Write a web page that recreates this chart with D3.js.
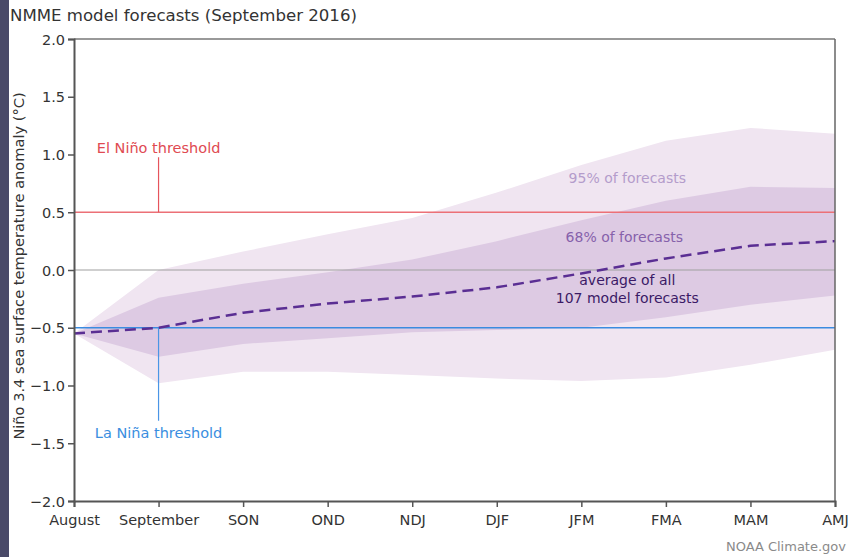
<!DOCTYPE html>
<html>
<head>
<meta charset="utf-8">
<script src="https://cdn.jsdelivr.net/npm/d3@7"></script>
<style>
	body { margin: 0; background: #fff; }
	svg text { font-family: "DejaVu Sans", sans-serif; }
</style>
</head>
<body>
<div id="chart"></div>
<script>
// forecast periods along the x axis
var periods = ["August", "September", "SON", "OND", "NDJ", "DJF", "JFM", "FMA", "MAM", "AMJ"];

// ensemble mean of all model forecasts
var meanValues = [-0.55, -0.50, -0.37, -0.29, -0.23, -0.15, -0.03, 0.10, 0.21, 0.25];

// 68% of forecasts range
var band68Upper = [-0.55, -0.24, -0.12, -0.02, 0.09, 0.25, 0.43, 0.60, 0.72, 0.71];
var band68Lower = [-0.55, -0.75, -0.64, -0.59, -0.54, -0.52, -0.50, -0.41, -0.30, -0.22];

// 95% of forecasts range
var band95Upper = [-0.55, 0.00, 0.16, 0.31, 0.45, 0.67, 0.91, 1.12, 1.23, 1.18];
var band95Lower = [-0.55, -0.98, -0.88, -0.88, -0.91, -0.94, -0.96, -0.93, -0.82, -0.69];

var yTicks = [2.0, 1.5, 1.0, 0.5, 0.0, -0.5, -1.0, -1.5, -2.0];
var elNino = 0.5, laNina = -0.5;

var W = 848, H = 557;
var margins = {top: 39, bottom: 56, left: 74, right: 13};
var width = W - margins.left - margins.right,
	height = H - margins.top - margins.bottom;

var svg = d3.select("#chart").append("svg")
	.attr("width", W)
	.attr("height", H);

// dark strip on the left edge
svg.append("rect")
	.attr("x", 0).attr("y", 0)
	.attr("width", 9).attr("height", H)
	.attr("fill", "#4a4a68");

svg.append("text")
	.attr("x", 10).attr("y", 21)
	.attr("font-size", 16.6)
	.attr("fill", "#333")
	.text("NMME model forecasts (September 2016)");

var g = svg.append("g")
	.attr("transform", "translate(" + margins.left + "," + margins.top + ")");

var x = d3.scalePoint().domain(periods).range([0, width]);
var y = d3.scaleLinear().domain([-2, 2]).range([height, 0]);

var rows = periods.map(function(p, i) {
	return {p: p, mean: meanValues[i], u68: band68Upper[i], l68: band68Lower[i], u95: band95Upper[i], l95: band95Lower[i]};
});

var area95 = d3.area()
	.x(function(d) { return x(d.p); })
	.y0(function(d) { return y(d.l95); })
	.y1(function(d) { return y(d.u95); });

var area68 = d3.area()
	.x(function(d) { return x(d.p); })
	.y0(function(d) { return y(d.l68); })
	.y1(function(d) { return y(d.u68); });

g.append("path").datum(rows).attr("d", area95).attr("fill", "#f0e5f1");
g.append("path").datum(rows).attr("d", area68).attr("fill", "#ddcae3");

// zero line
g.append("line")
	.attr("x1", 0).attr("x2", width)
	.attr("y1", y(0)).attr("y2", y(0))
	.attr("stroke", "#a0a0a0").attr("stroke-width", 1.2);

// thresholds
g.append("line")
	.attr("x1", 0).attr("x2", width)
	.attr("y1", y(elNino)).attr("y2", y(elNino))
	.attr("stroke", "#ec7077").attr("stroke-width", 1.3);
g.append("line")
	.attr("x1", x("September")).attr("x2", x("September"))
	.attr("y1", y(elNino)).attr("y2", y(elNino) - 55)
	.attr("stroke", "#e6545c").attr("stroke-width", 1.2);
g.append("text")
	.attr("x", x("September")).attr("y", y(elNino) - 59)
	.attr("text-anchor", "middle")
	.attr("font-size", 14.5)
	.attr("fill", "#e04a52")
	.text("El Niño threshold");

g.append("line")
	.attr("x1", 0).attr("x2", width)
	.attr("y1", y(laNina)).attr("y2", y(laNina))
	.attr("stroke", "#3a8be0").attr("stroke-width", 1.3);
g.append("line")
	.attr("x1", x("September")).attr("x2", x("September"))
	.attr("y1", y(laNina)).attr("y2", y(laNina) + 93)
	.attr("stroke", "#4a95e6").attr("stroke-width", 1.2);
g.append("text")
	.attr("x", x("September")).attr("y", y(laNina) + 110)
	.attr("text-anchor", "middle")
	.attr("font-size", 14.5)
	.attr("fill", "#3a8ee0")
	.text("La Niña threshold");

// ensemble mean
var line = d3.line()
	.x(function(d) { return x(d.p); })
	.y(function(d) { return y(d.mean); });

g.append("path").datum(rows)
	.attr("d", line)
	.attr("fill", "none")
	.attr("stroke", "#5a2e93")
	.attr("stroke-width", 2.5)
	.attr("stroke-dasharray", "11,6");

// band labels
var lx = (x("DJF") + x("FMA")) / 2 + 46;
g.append("text")
	.attr("x", lx).attr("y", y(0.75))
	.attr("text-anchor", "middle").attr("font-size", 14)
	.attr("fill", "#b49ccb")
	.text("95% of forecasts");
g.append("text")
	.attr("x", lx - 3).attr("y", y(0.24))
	.attr("text-anchor", "middle").attr("font-size", 14)
	.attr("fill", "#8661ab")
	.text("68% of forecasts");
g.append("text")
	.attr("x", lx).attr("y", y(-0.13))
	.attr("text-anchor", "middle").attr("font-size", 14)
	.attr("fill", "#3b1a66")
	.text("average of all");
g.append("text")
	.attr("x", lx).attr("y", y(-0.29))
	.attr("text-anchor", "middle").attr("font-size", 14)
	.attr("fill", "#3b1a66")
	.text("107 model forecasts");

// frame top and right
g.append("line")
	.attr("x1", 0).attr("x2", width).attr("y1", 0).attr("y2", 0)
	.attr("stroke", "#777").attr("stroke-width", 1.5);
g.append("line")
	.attr("x1", width).attr("x2", width).attr("y1", 0).attr("y2", height)
	.attr("stroke", "#666").attr("stroke-width", 1.5);

// axes
var yAxis = g.append("g")
	.call(d3.axisLeft(y).tickValues(yTicks).tickSize(6).tickPadding(3)
		.tickFormat(function(d) { return d3.format(".1f")(d).replace("-", "\u2212"); }));
var xAxis = g.append("g")
	.attr("transform", "translate(0," + height + ")")
	.call(d3.axisBottom(x).tickSize(6).tickPadding(8));

[yAxis, xAxis].forEach(function(a) {
	a.select(".domain").attr("stroke", "#555").attr("stroke-width", 2);
	a.selectAll(".tick line").attr("stroke", "#555").attr("stroke-width", 1.5);
	a.selectAll(".tick text").attr("fill", "#333").attr("font-size", 14.5)
		.style("font-family", "DejaVu Sans, sans-serif");
});
yAxis.selectAll(".tick text").attr("dy", "0.36em");

svg.append("text")
	.attr("transform", "translate(24," + (margins.top + height / 2 - 4) + ") rotate(-90)")
	.attr("text-anchor", "middle")
	.attr("font-size", 14.6)
	.attr("fill", "#333")
	.text("Niño 3.4 sea surface temperature anomaly (°C)");

svg.append("text")
	.attr("x", 846).attr("y", 551)
	.attr("text-anchor", "end")
	.attr("font-size", 13)
	.attr("fill", "#8a8a8a")
	.text("NOAA Climate.gov");
</script>
</body>
</html>
